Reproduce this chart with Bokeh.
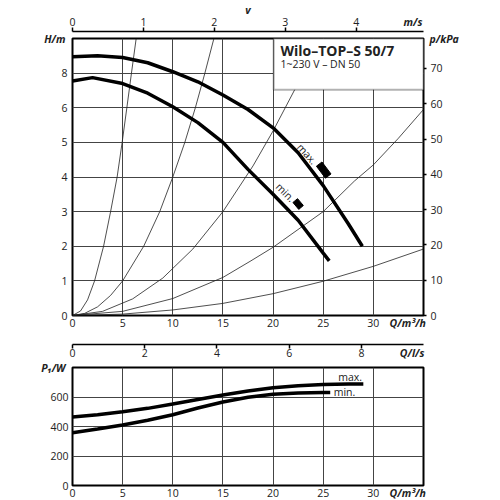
from bokeh.plotting import figure
from bokeh.models import LinearAxis, Range1d, FixedTicker, Label, BoxAnnotation, Title
from bokeh.layouts import column
from bokeh.embed import file_html
from bokeh.resources import INLINE

# ---------------- data ----------------
# pump curves H(Q), Q in m3/h, H in grid units of the H/m axis
q_hmax = [0, 2.5, 5, 7.5, 10, 12.5, 15, 17.5, 20, 22.5, 25, 27.5, 28.9]
h_max = [7.47, 7.50, 7.45, 7.30, 7.04, 6.75, 6.37, 5.95, 5.42, 4.70, 3.75, 2.65, 2.0]
q_hmin = [0, 2.0, 5, 7.5, 10, 12.5, 15, 17.5, 20, 22.5, 25, 25.6]
h_min = [6.77, 6.87, 6.70, 6.42, 6.03, 5.57, 5.0, 4.22, 3.5, 2.75, 1.8, 1.58]

# system (pipe) curves
sys1_q = [0, 0.8, 1.5, 2.2, 3.1, 3.8, 4.45, 4.95, 5.42, 5.88, 6.35]
sys1_h = [0, 0.13, 0.45, 1, 2, 3, 4, 5, 6, 7, 8]
sys2_q = [0, 1.2, 2.5, 3.8, 5.0, 7.1, 8.7, 10.0, 11.2, 12.25, 13.2, 14.1]
sys2_h = [0, 0.06, 0.25, 0.58, 1, 2, 3, 4, 5, 6, 7, 8]
sys3_q = [0, 3, 6, 9, 12, 15, 18, 20, 22.3, 24.5]
sys3_h = [0, 0.12, 0.48, 1.08, 1.92, 3.0, 4.32, 5.33, 6.6, 8.0]
sys4_q = [0, 5, 10, 15, 17.8, 20, 25, 28.1, 30, 32.5, 35]
sys4_h = [0, 0.12, 0.49, 1.1, 1.58, 1.97, 3.0, 3.88, 4.35, 5.12, 5.95]
sys5_q = [0, 5, 10, 15, 20, 25, 30, 35]
sys5_h = [0, 0.04, 0.16, 0.35, 0.63, 0.99, 1.42, 1.92]

# operating-point marks next to the curves
mark_max_q, mark_max_h = [25.05], [4.20]
mark_min_q, mark_min_h = [22.5], [3.22]

# power curves P1(Q)
q_pmax = [0, 2.5, 5, 7.5, 10, 12.5, 15, 17.5, 20, 22.5, 25, 27.5, 29]
p_max = [465, 480, 500, 523, 552, 583, 613, 640, 662, 677, 685, 688, 688]
q_pmin = [0, 2.5, 5, 7.5, 10, 12.5, 15, 17.5, 20, 22.5, 25, 25.7]
p_min = [358, 383, 410, 442, 480, 525, 566, 598, 618, 627, 631, 631]

# ticks
q_ticks = [0, 5, 10, 15, 20, 25, 30]
h_ticks = [0, 1, 2, 3, 4, 5, 6, 7]
h_labels = {7: "8"}
kpa_ticks = [0, 10, 20, 30, 40, 50, 60, 70]
v_ticks = [0, 1, 2, 3, 4]
ls_ticks = [0, 2, 4, 6, 8]
p_ticks = [0, 200, 400, 600]

Q_MAX = 35
H_MAX = 8
KPA_MAX = 78.5
V_MAX = 4.95
LS_MAX = 9.72
P_MAX = 800

# ---------------- style ----------------
FONT = "Open Sans"
TXT = "#222222"
GRID = "#444444"
FS = "10.5px"
EM = "\u2003"     # em space: shifts an end-aligned caption to the left
THIN = "\u2009"


def style_axis(ax, ticks, standoff, line=False, tick_out=0):
    ax.ticker = FixedTicker(ticks=ticks)
    ax.minor_tick_line_color = None
    ax.major_tick_in = 0
    ax.major_tick_out = tick_out
    ax.major_tick_line_width = 1.5
    ax.major_tick_line_color = "black" if tick_out else None
    ax.axis_line_color = "black" if line else None
    ax.axis_line_width = 1.5
    ax.major_label_standoff = standoff
    ax.major_label_text_font = FONT
    ax.major_label_text_font_size = FS
    ax.major_label_text_color = TXT


def caption(ax, text, standoff, horizontal=False):
    # axis caption at the far end of the axis, pulled into the tick-label row
    ax.axis_label = text
    ax.axis_label_align = "end"
    ax.axis_label_standoff = standoff
    ax.axis_label_text_font = FONT
    ax.axis_label_text_font_size = FS
    ax.axis_label_text_font_style = "bold italic"
    ax.axis_label_text_color = TXT
    if horizontal:
        ax.axis_label_orientation = "horizontal"


def lab(p, x, y, text, size=FS, style="normal", align="left", baseline="middle", angle=0):
    p.add_layout(Label(x=x, y=y, text=text, text_font=FONT, text_font_size=size,
                       text_font_style=style, text_align=align, text_baseline=baseline,
                       text_color=TXT, angle=angle, angle_units="deg"))


def spacer(size, standoff):
    return Title(text=" ", text_font_size=size, standoff=standoff)


def base_fig(fh, ymax, top):
    p = figure(frame_width=351, frame_height=fh,
               x_range=Range1d(0, Q_MAX), y_range=Range1d(0, ymax),
               output_backend="svg", toolbar_location=None,
               min_border_left=72, min_border_right=65,
               min_border_top=top, min_border_bottom=0)
    p.outline_line_color = "black"
    p.outline_line_width = 2
    p.background_fill_color = "white"
    p.border_fill_color = "white"
    p.grid.grid_line_color = GRID
    p.grid.grid_line_width = 1
    return p


# ---------------- upper chart: H(Q) ----------------
p1 = base_fig(277, H_MAX, 38)
p1.extra_x_ranges = {"v": Range1d(0, V_MAX), "ls": Range1d(0, LS_MAX)}
p1.extra_y_ranges = {"kpa": Range1d(0, KPA_MAX)}

p1.title.text = "v"
p1.title.align = "center"
p1.title.text_font = FONT
p1.title.text_font_size = FS
p1.title.text_font_style = "bold italic"
p1.title.text_color = TXT
p1.title.standoff = -10

style_axis(p1.xaxis[0], q_ticks, 3)
caption(p1.xaxis[0], "Q/m³/h" + EM * 3, -14)
style_axis(p1.yaxis[0], h_ticks, 5)
p1.yaxis[0].major_label_overrides = h_labels
caption(p1.yaxis[0], "H/m", -7, horizontal=True)

kax = LinearAxis(y_range_name="kpa")
style_axis(kax, kpa_ticks, 4, tick_out=3)
caption(kax, "p/kPa", -16, horizontal=True)
p1.add_layout(kax, "right")

vax = LinearAxis(x_range_name="v")
style_axis(vax, v_ticks, 2, line=True, tick_out=4)
caption(vax, "m/s" + EM * 2, -14)
p1.add_layout(spacer("2px", 3), "above")
p1.add_layout(vax, "above")

lax = LinearAxis(x_range_name="ls")
style_axis(lax, ls_ticks, 0, line=True, tick_out=4)
caption(lax, "Q/l/s" + EM * 2 + THIN, -14)
p1.add_layout(spacer("2px", 8), "below")
p1.add_layout(lax, "below")

for sq, sh in [(sys1_q, sys1_h), (sys2_q, sys2_h), (sys3_q, sys3_h),
               (sys4_q, sys4_h), (sys5_q, sys5_h)]:
    p1.line(sq, sh, line_width=0.8, line_color="#222222")

p1.line(q_hmax, h_max, line_width=3.5, line_color="black")
p1.line(q_hmin, h_min, line_width=3.5, line_color="black")

p1.rect(mark_max_q, mark_max_h, width=15, height=7, angle=-53, angle_units="deg",
        width_units="screen", height_units="screen", color="black")
p1.rect(mark_min_q, mark_min_h, width=9, height=6, angle=-50, angle_units="deg",
        width_units="screen", height_units="screen", color="black")
lab(p1, 23.39, 4.67, "max.", align="center", angle=-48)
lab(p1, 21.23, 3.56, "min.", align="center", angle=-45)

# name box
p1.add_layout(BoxAnnotation(left=20.06, right=Q_MAX, bottom=6.52, top=H_MAX,
                            fill_color="white", fill_alpha=1,
                            line_color="black", line_width=2))
lab(p1, 20.73, 7.665, "Wilo–TOP–S 50/7", size="14px", style="bold")
lab(p1, 20.73, 7.25, "1~230 V – DN 50", size="10.5px")

# ---------------- lower chart: P1(Q) ----------------
p2 = base_fig(118, P_MAX, 5)
style_axis(p2.xaxis[0], q_ticks, 3)
caption(p2.xaxis[0], "Q/m³/h" + EM * 3, -14)
style_axis(p2.yaxis[0], p_ticks, 4)
caption(p2.yaxis[0], "P₁/W", -18, horizontal=True)

p2.line(q_pmax, p_max, line_width=3.5, line_color="black")
p2.line(q_pmin, p_min, line_width=3.5, line_color="black")
lab(p2, 28.88, 736, "max.", align="right")
lab(p2, 26.05, 635, "min.")

layout = column(p1, p2, spacing=0)
open("out.html", "w").write(file_html(layout, INLINE))
